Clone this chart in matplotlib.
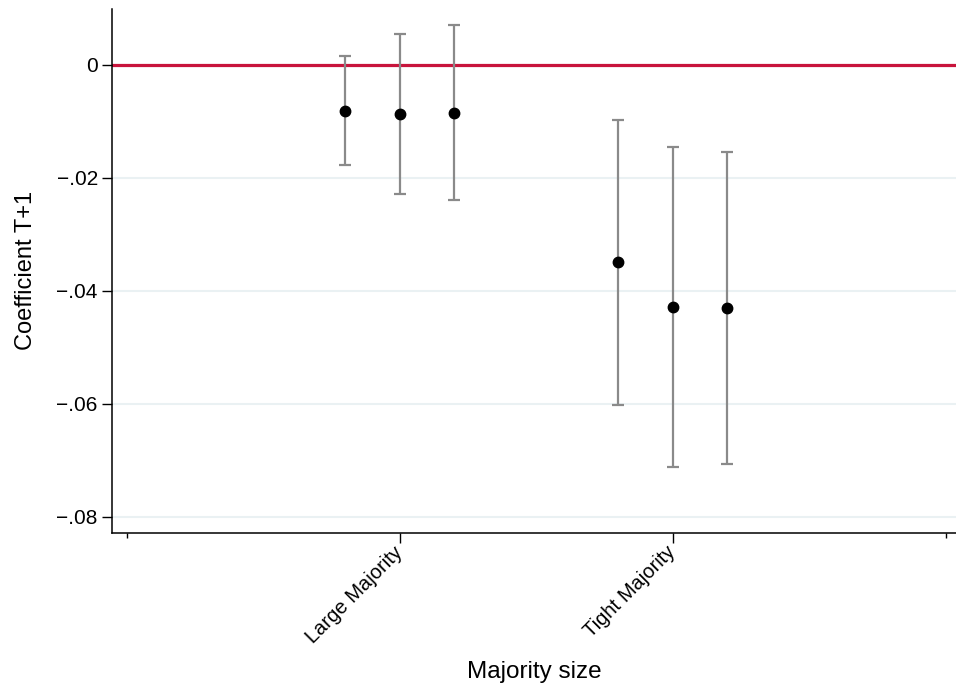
import matplotlib
matplotlib.use("Agg")
import matplotlib.pyplot as plt
import numpy as np

plt.rcParams["font.family"] = ["Liberation Sans", "DejaVu Sans"]

categories = ["Large Majority", "Tight Majority"]
cat_pos = [1, 2]
spec_offsets = [-0.2, 0.0, 0.2]

coef_large = [-0.0082, -0.0087, -0.0085]
lo_large = [-0.0178, -0.0229, -0.0240]
hi_large = [0.0015, 0.0055, 0.0071]

coef_tight = [-0.0350, -0.0429, -0.0431]
lo_tight = [-0.0602, -0.0712, -0.0707]
hi_tight = [-0.0098, -0.0146, -0.0154]

ytick_vals = [0, -0.02, -0.04, -0.06, -0.08]
ytick_labels = ["0", "\u2212.02", "\u2212.04", "\u2212.06", "\u2212.08"]

fig = plt.figure(figsize=(9.56, 6.87), dpi=100)
ax = fig.add_axes([0.1168, 0.2243, 0.8832, 0.7627])

for ax_y in ytick_vals:
    ax.axhline(ax_y, color="#eaf1f3", lw=1.5, zorder=0)
ax.axhline(0, color="#c8143c", lw=2.3, zorder=1)

for pos, coef, lo, hi in [(cat_pos[0], coef_large, lo_large, hi_large),
                          (cat_pos[1], coef_tight, lo_tight, hi_tight)]:
    x = pos + np.array(spec_offsets)
    coef = np.array(coef)
    yerr = [coef - np.array(lo), np.array(hi) - coef]
    ax.errorbar(x, coef, yerr=yerr, fmt="none", ecolor="#8a8a8a",
                elinewidth=1.6, capsize=4.5, capthick=1.6, zorder=2)
    ax.plot(x, coef, "o", color="black", markersize=7.5, zorder=3)

ax.set_xlim(-0.056, 3.038)
ax.set_ylim(-0.08288, 0.00986)

ax.set_yticks(ytick_vals)
ax.set_yticklabels(ytick_labels, fontsize=15)
ax.set_xticks(cat_pos)
ax.set_xticklabels(categories, fontsize=14.5, rotation=45, ha="right",
                   va="center", rotation_mode="anchor")
ax.set_xticks([0, 3], minor=True)
ax.tick_params(axis="x", which="major", length=7, width=1, pad=5)
ax.tick_params(axis="x", which="minor", length=3.5, width=1)
ax.tick_params(axis="y", length=7, width=1, pad=3)

ax.spines["top"].set_visible(False)
ax.spines["right"].set_visible(False)
for s in ["left", "bottom"]:
    ax.spines[s].set_linewidth(1.1)

ax.set_xlabel("Majority size", fontsize=17.5, labelpad=10)
ax.set_ylabel("Coefficient T+1", fontsize=17, labelpad=14)

fig.savefig("out.png", dpi=100)
